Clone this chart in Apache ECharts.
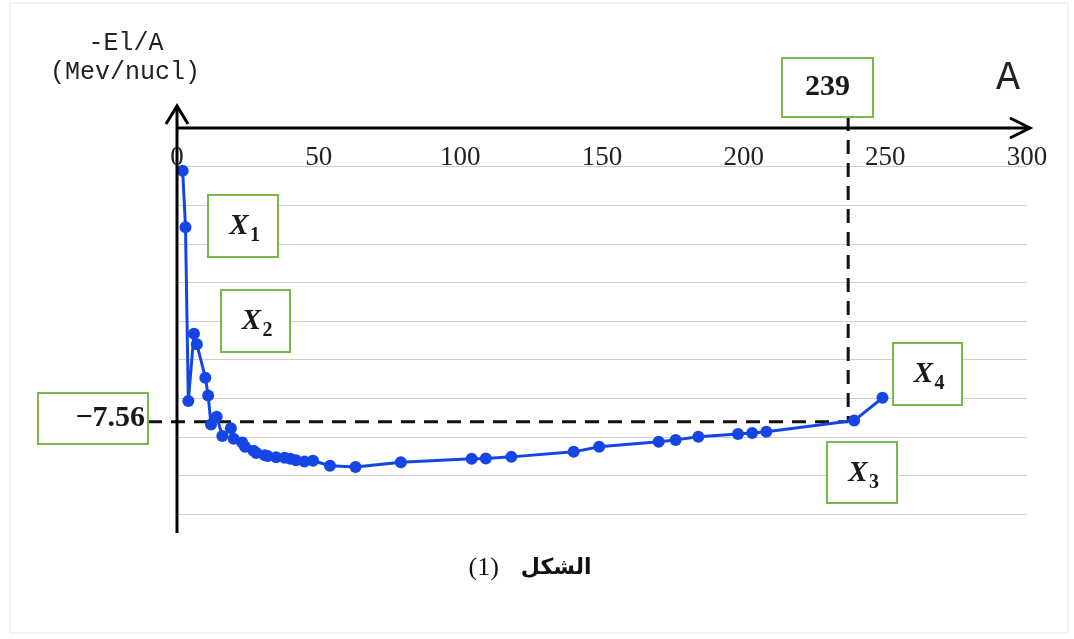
<!DOCTYPE html>
<html><head><meta charset="utf-8">
<script src="https://cdn.jsdelivr.net/npm/echarts@6/dist/echarts.min.js"></script>
<style>html,body{margin:0;padding:0;background:#fff}#c{width:1074px;height:639px}</style>
</head><body><div id="c"></div>
<script>
// ---- data ----
const massNumbers = [2,3,4,6,7,10,11,12,14,16,19,20,23,24,27,28,31,32,35,38,40,42,45,48,54,63,79,104,109,118,140,149,170,176,184,198,203,208,239,249];
const bindingPerNucleon = [-1.11,-2.57,-7.07,-5.33,-5.60,-6.47,-6.93,-7.68,-7.48,-7.98,-7.78,-8.05,-8.15,-8.26,-8.36,-8.42,-8.48,-8.50,-8.53,-8.54,-8.57,-8.61,-8.64,-8.62,-8.75,-8.78,-8.66,-8.57,-8.56,-8.52,-8.39,-8.26,-8.13,-8.08,-8.00,-7.93,-7.90,-7.87,-7.58,-6.99];
const xTicks = [0, 50, 100, 150, 200, 250, 300];
const refA = 239;
const refE = -7.56;
const pointLabels = ['1', '2', '3', '4'];
const yTitle = ['-El/A', '(Mev/nucl)'];
const xTitle = 'A';
const captionNum = '(1)';
const captionWord = 'الشكل';

const chart = echarts.init(document.getElementById('c'), null, {renderer: 'canvas'});
const option = {
  animation: false,
  backgroundColor: '#fff',
  grid: {left: 177, right: 47, top: 128, bottom: 125},
  xAxis: {
    type: 'value', position: 'top', min: xTicks[0], max: xTicks[xTicks.length - 1], interval: xTicks[1] - xTicks[0],
    axisLine: {show: false}, axisTick: {show: false}, splitLine: {show: false},
    axisLabel: {inside: true, margin: 16, fontFamily: 'Liberation Serif', fontSize: 27, color: '#222'}
  },
  yAxis: {
    type: 'value', min: -10, max: 0, interval: 1,
    axisLine: {show: false}, axisTick: {show: false}, axisLabel: {show: false},
    splitLine: {lineStyle: {color: '#cfcfcf', width: 1}}
  },
  series: [{
    type: 'line',
    data: massNumbers.map((a, i) => [a, bindingPerNucleon[i]]),
    symbol: 'circle', symbolSize: 12,
    lineStyle: {color: '#1546e4', width: 3},
    itemStyle: {color: '#1546e4'},
    z: 3
  }]
};
chart.setOption(option);

const px = (a, e) => chart.convertToPixel({gridIndex: 0}, [a, e]);
const o = px(0, 0);
const xEnd = px(xTicks[xTicks.length - 1], 0);
const yBot = px(0, -10);
const ref = px(refA, refE);

const green = '#78b94c';
function frame(x, y, w, h) {
  return {type: 'rect', z: 100, shape: {x: x, y: y, width: w, height: h}, style: {fill: '#fff', stroke: green, lineWidth: 2}};
}
function textBox(x, y, w, h, style, tx) {
  return {
    type: 'group', z: 100,
    children: [
      frame(x, y, w, h),
      {type: 'text', z: 101, x: tx !== undefined ? tx : x + w / 2, y: y + h / 2, style: Object.assign({align: 'center', verticalAlign: 'middle', fill: '#1a1a1a'}, style)}
    ]
  };
}
function xBox(x, y, w, h, sub) {
  const cx = x + w / 2, cy = y + h / 2;
  return {
    type: 'group', z: 100,
    children: [
      frame(x, y, w, h),
      {type: 'text', z: 101, x: cx - 4, y: cy + 1, style: {text: 'X', align: 'center', verticalAlign: 'middle', fill: '#1a1a1a', fontFamily: 'Liberation Serif', fontSize: 29, fontStyle: 'italic', fontWeight: 'bold'}},
      {type: 'text', z: 101, x: cx + 12, y: cy + 10, style: {text: sub, align: 'center', verticalAlign: 'middle', fill: '#1a1a1a', fontFamily: 'Liberation Serif', fontSize: 20, fontWeight: 'bold'}}
    ]
  };
}
const dash = [14, 9];
const axisStyle = {stroke: '#000', lineWidth: 3};
const graphics = [
  {type: 'rect', z: 0, shape: {x: 10, y: 3, width: 1058, height: 630}, style: {fill: 'none', stroke: '#e8e8e8', lineWidth: 1}},
  // axes with arrows
  {type: 'line', z: 50, shape: {x1: o[0], y1: yBot[1] + 19, x2: o[0], y2: o[1] - 22}, style: axisStyle},
  {type: 'polyline', z: 50, shape: {points: [[o[0] - 11, o[1] - 4], [o[0], o[1] - 22], [o[0] + 11, o[1] - 4]]}, style: Object.assign({fill: 'none'}, axisStyle)},
  {type: 'line', z: 50, shape: {x1: o[0], y1: o[1], x2: xEnd[0] + 3, y2: o[1]}, style: axisStyle},
  {type: 'polyline', z: 50, shape: {points: [[xEnd[0] - 17, o[1] - 10], [xEnd[0] + 3, o[1]], [xEnd[0] - 17, o[1] + 10]]}, style: Object.assign({fill: 'none'}, axisStyle)},
  // dashed reference lines
  {type: 'line', z: 2, shape: {x1: 148, y1: ref[1] + 2, x2: ref[0] - 6, y2: ref[1] + 2}, style: {stroke: '#111', lineWidth: 3, lineDash: dash}},
  {type: 'line', z: 2, shape: {x1: ref[0] - 6, y1: 117, x2: ref[0] - 6, y2: ref[1] + 2}, style: {stroke: '#111', lineWidth: 3, lineDash: dash}},
  // boxes
  textBox(782, 58, 91, 59, {text: String(refA), fontFamily: 'Liberation Serif', fontSize: 30, fontWeight: 'bold'}),
  textBox(38, 393, 110, 51, {text: '\u2212' + Math.abs(refE).toFixed(2), fontFamily: 'Liberation Serif', fontSize: 30, fontWeight: 'bold', align: 'right'}, 145),
  xBox(208, 195, 70, 62, pointLabels[0]),
  xBox(221, 290, 69, 62, pointLabels[1]),
  xBox(827, 442, 70, 61, pointLabels[2]),
  xBox(893, 343, 69, 62, pointLabels[3]),
  // titles
  {type: 'text', z: 60, x: 126, y: 43, style: {text: yTitle[0], fontFamily: 'Liberation Mono', fontSize: 25, fill: '#222', align: 'center', verticalAlign: 'middle'}},
  {type: 'text', z: 60, x: 125, y: 72, style: {text: yTitle[1], fontFamily: 'Liberation Mono', fontSize: 25, fill: '#222', align: 'center', verticalAlign: 'middle'}},
  {type: 'text', z: 60, x: 1008, y: 78, style: {text: xTitle, fontFamily: 'Liberation Mono', fontSize: 40, fill: '#222', align: 'center', verticalAlign: 'middle'}},
  {type: 'text', z: 60, x: 530, y: 568, style: {
    text: '{a|' + captionNum + '}{b|' + captionWord + '}', align: 'center', verticalAlign: 'middle',
    rich: {
      a: {fontFamily: 'Liberation Serif', fontSize: 26, fill: '#111', padding: [0, 22, 0, 0]},
      b: {fontFamily: 'DejaVu Sans', fontSize: 22, fontWeight: 'bold', fill: '#111'}
    }
  }}
];
chart.setOption({graphic: {elements: graphics}});
</script>
</body></html>
